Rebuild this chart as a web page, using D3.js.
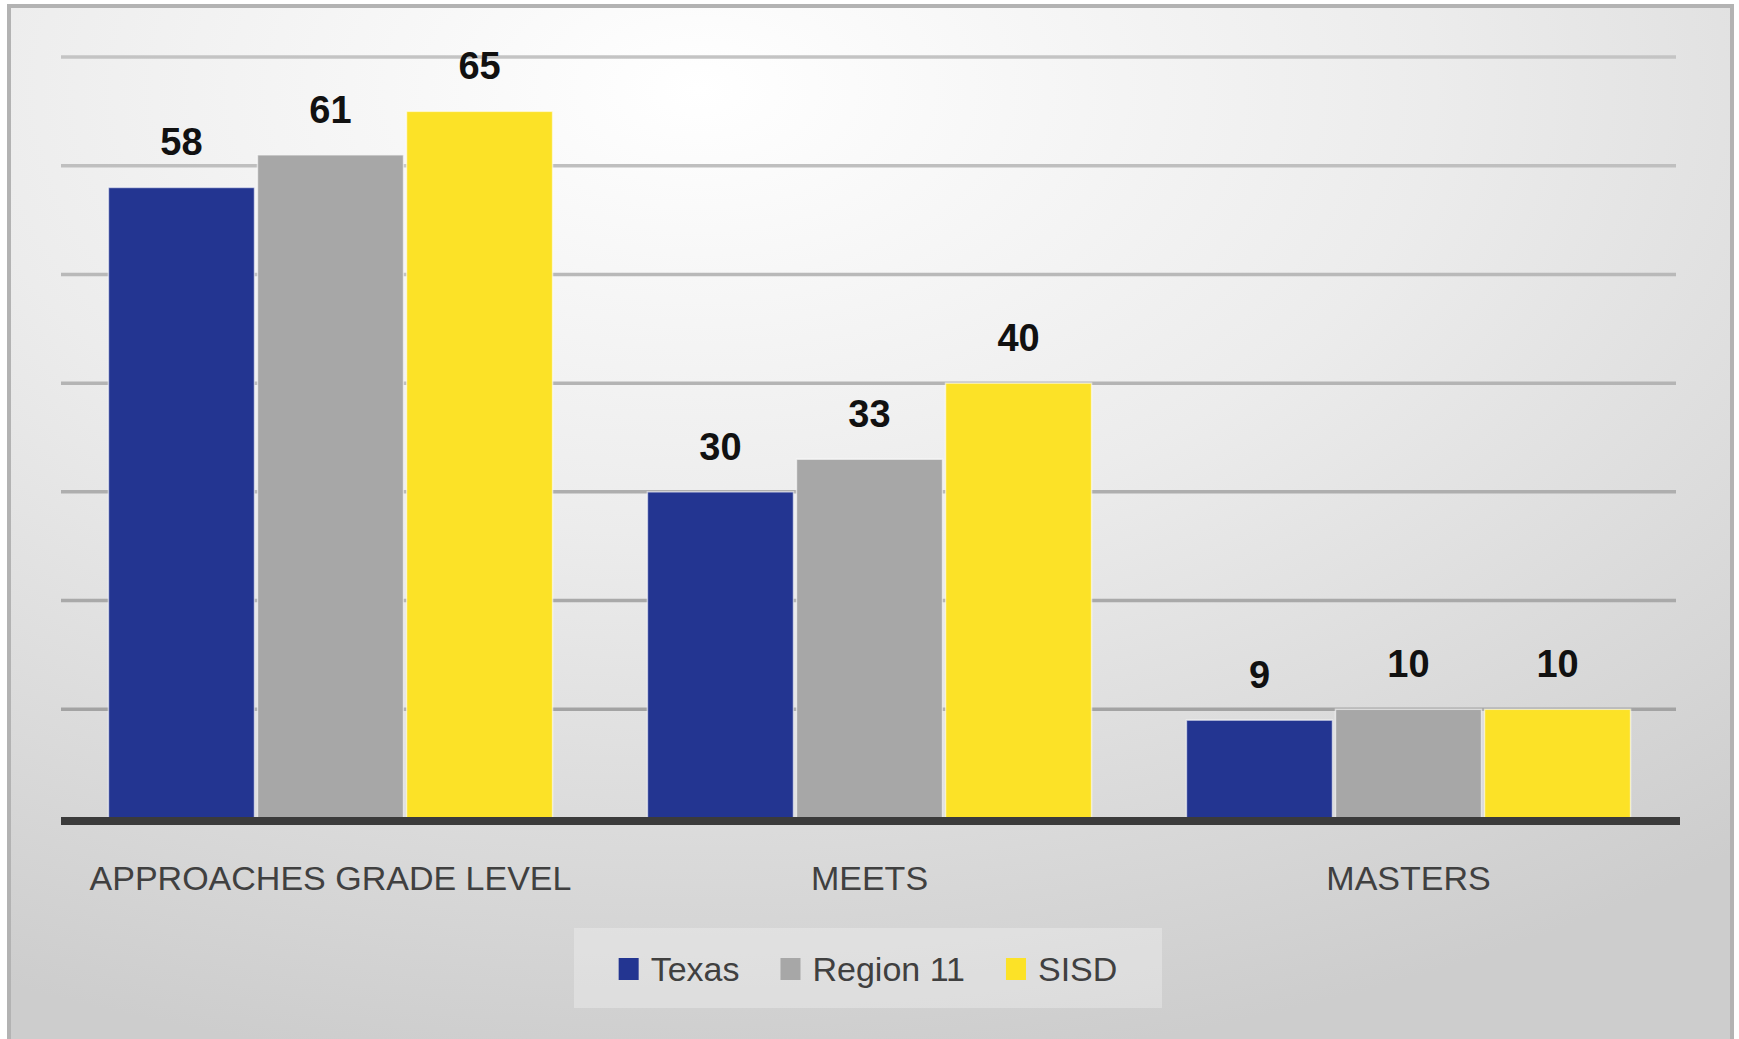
<!DOCTYPE html>
<html>
<head>
<meta charset="utf-8">
<script src="https://cdn.jsdelivr.net/npm/d3@7"></script>
<style>
  html, body { margin: 0; padding: 0; background: #ffffff; }
  svg { display: block; }
</style>
</head>
<body>
<div id="chart"></div>
<script>
// chart data
const categories = ["APPROACHES GRADE LEVEL", "MEETS", "MASTERS"];
const seriesNames = ["Texas", "Region 11", "SISD"];
const texas = [58, 30, 9];
const region11 = [61, 33, 10];
const sisd = [65, 40, 10];
const gridValues = [10, 20, 30, 40, 50, 60, 70];

const colors = ["#233591", "#a7a7a7", "#fce227"];

const width = 1739;
const height = 1039;
const font = "'Liberation Sans', Arial, sans-serif";

const svg = d3.select("#chart")
  .append("svg")
  .attr("width", width)
  .attr("height", height);

// background gradient
const defs = svg.append("defs");
const grad = defs.append("radialGradient")
  .attr("id", "bg")
  .attr("cx", "40%").attr("cy", "8%")
  .attr("r", "95%")
  .attr("gradientUnits", "objectBoundingBox");
grad.append("stop").attr("offset", "0%").attr("stop-color", "#ffffff");
grad.append("stop").attr("offset", "45%").attr("stop-color", "#ececec");
grad.append("stop").attr("offset", "100%").attr("stop-color", "#cdcdcd");

svg.append("rect")
  .attr("x", 9).attr("y", 6)
  .attr("width", 1723).attr("height", 1040)
  .attr("fill", "url(#bg)")
  .attr("stroke", "#b3b3b3")
  .attr("stroke-width", 4);

const plotLeft = 61, plotRight = 1680;

const x0 = d3.scaleBand()
  .domain(categories)
  .range([plotLeft, plotRight - 2])
  .paddingInner(0.176)
  .paddingOuter(0.088);

const x1 = d3.scaleBand()
  .domain(seriesNames)
  .range([0, x0.bandwidth()])
  .paddingInner(0.02);

const y = d3.scaleLinear()
  .domain([0, 70])
  .range([818, 57]);

// gridlines
svg.append("g")
  .selectAll("line")
  .data(gridValues)
  .join("line")
  .attr("x1", plotLeft)
  .attr("x2", plotRight - 4)
  .attr("y1", d => y(d))
  .attr("y2", d => y(d))
  .attr("stroke", (d, i) => d3.interpolateRgb("#a3a3a3", "#c4c4c4")(i / 6))
  .attr("stroke-width", 3.5);

const rows = categories.map((c, i) => ({
  category: c,
  values: [texas[i], region11[i], sisd[i]]
}));

const groups = svg.append("g")
  .selectAll("g")
  .data(rows)
  .join("g")
  .attr("transform", d => `translate(${x0(d.category)},0)`);

groups.selectAll("rect")
  .data(d => d.values.map((v, i) => ({ name: seriesNames[i], value: v, i })))
  .join("rect")
  .attr("x", d => x1(d.name))
  .attr("y", d => y(d.value))
  .attr("width", x1.bandwidth())
  .attr("height", d => y(0) - y(d.value))
  .attr("fill", d => colors[d.i])
  .attr("stroke", "rgba(255,255,255,0.6)")
  .attr("stroke-width", 1.5);

groups.selectAll("text")
  .data(d => d.values.map((v, i) => ({ name: seriesNames[i], value: v })))
  .join("text")
  .attr("x", d => x1(d.name) + x1.bandwidth() / 2)
  .attr("y", d => y(d.value) - 32)
  .attr("text-anchor", "middle")
  .style("font-family", font)
  .style("font-weight", "bold")
  .style("font-size", "38px")
  .attr("fill", "#111111")
  .text(d => d.value);

// category axis line
svg.append("line")
  .attr("x1", plotLeft).attr("x2", plotRight)
  .attr("y1", y(0) + 3).attr("y2", y(0) + 3)
  .attr("stroke", "#3b3b3b")
  .attr("stroke-width", 8);

// category labels
svg.append("g")
  .selectAll("text")
  .data(categories)
  .join("text")
  .attr("x", d => x0(d) + x0.bandwidth() / 2)
  .attr("y", 890)
  .attr("text-anchor", "middle")
  .style("font-family", font)
  .style("font-size", "34px")
  .attr("fill", "#404040")
  .text(d => d);

// legend
const legend = svg.append("g");
const legendBox = legend.append("rect")
  .attr("fill", "rgba(255,255,255,0.28)");

const items = legend.selectAll("g")
  .data(seriesNames)
  .join("g");

items.append("rect")
  .attr("width", 20).attr("height", 22)
  .attr("y", -23)
  .attr("fill", (d, i) => colors[i]);

items.append("text")
  .attr("x", 32)
  .style("font-family", font)
  .style("font-size", "34px")
  .attr("fill", "#404040")
  .text(d => d);

let cursor = 0;
items.each(function () {
  const g = d3.select(this);
  g.attr("transform", `translate(${cursor},0)`);
  cursor += 32 + g.select("text").node().getComputedTextLength() + 41;
});
const legendWidth = cursor - 41;
const legendX = (574 + 1162) / 2 - legendWidth / 2;
legend.attr("transform", `translate(${legendX},981)`);
legendBox
  .attr("x", 574 - legendX)
  .attr("y", -53)
  .attr("width", 588)
  .attr("height", 80);
</script>
</body>
</html>
